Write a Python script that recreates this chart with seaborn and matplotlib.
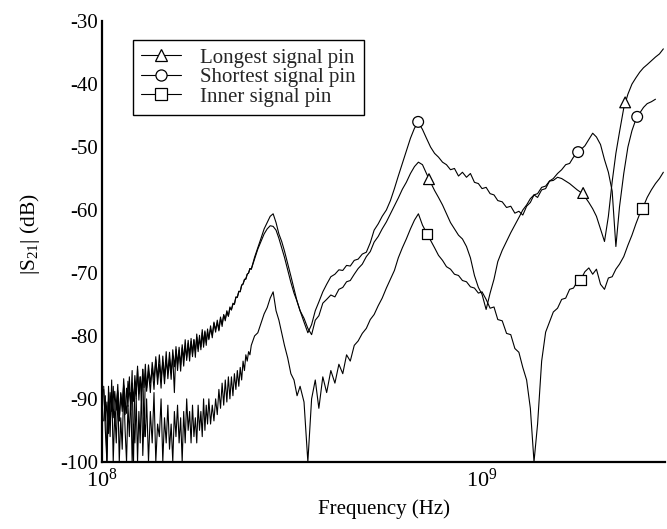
import numpy as np
import pandas as pd
import matplotlib
matplotlib.use("Agg")
import matplotlib.pyplot as plt
import seaborn as sns
from matplotlib.lines import Line2D
from matplotlib.ticker import FixedLocator, NullLocator, LogFormatterMathtext

# ---------------- data ----------------
freq_mhz = [101, 102, 103, 104, 105, 106, 107, 108, 109, 110, 111, 112, 113, 114, 115, 116,
            117, 118, 119, 120, 121, 122, 123, 124, 125, 126, 127, 128, 129, 130, 131,
            132.5, 134, 135.5, 137, 138.5, 140, 141.5, 143, 144.5, 146, 147.5, 149, 150.5,
            152, 153.5, 155, 156.5, 158, 159.5, 161, 162.5, 164, 165.5, 167, 168.5, 170,
            171.5, 173, 174.5, 176, 177.5, 179, 180.5, 182, 183.5, 185, 186.5, 188, 189.5, 191,
            193, 195, 197, 199, 201, 203, 205, 207, 209, 211, 213, 215, 217, 219, 221, 223,
            225, 227, 229, 231, 233, 235, 237, 239, 241, 243, 245, 247,
            252, 257, 262, 267, 272, 277, 282, 287, 292, 297, 302, 308, 314, 320, 326, 332,
            340, 348, 356, 364, 372, 381, 390, 400, 410, 420, 430, 440, 450, 461, 472, 484,
            496, 508, 520, 533, 546, 560, 574, 588, 602, 617, 632, 648, 664, 680, 697, 714,
            732, 750, 768, 787, 806, 826, 846, 867, 888, 910, 932, 955, 978, 1000, 1025, 1050,
            1075, 1100, 1130, 1160, 1190, 1220, 1250, 1280, 1310, 1340, 1370, 1400, 1435, 1470,
            1505, 1540, 1580, 1620, 1660, 1700, 1740, 1780, 1820, 1865, 1910, 1955, 2000, 2050,
            2100, 2150, 2200, 2250, 2300, 2360, 2420, 2480, 2540, 2600, 2660, 2720, 2790, 2860,
            2930, 3000]

longest_db = [-88.5, -93.5, -90.5, -95.5, -89, -92, -88, -94, -90.8, -88.7,
              -93.5, -89.2, -92, -86.8, -90.5, -92.3, -87.2, -89, -90.8, -85.5,
              -100, -87.3, -90, -85.3, -89.2, -86.5, -90.4, -85.3, -88.2, -84.5,
              -88.8,
              -85.6, -89, -84.2, -87, -83.3, -87.7, -84.5, -88.3, -83.2, -86.6,
              -82.5, -86.8, -83.6, -86.9, -82.2, -84.9, -82.2, -85.5, -82.3, -85.6,
              -81.4, -83.8, -80.6, -83.9, -81.2, -84, -80.4, -82.8, -80.6, -83.4,
              -79.7, -82, -79.9, -82.2, -79, -81.3, -79.2, -81.5, -78.9, -80.6,
              -78.4, -80.3, -78, -79.4, -77.5, -79, -77, -78.5, -76.6, -77.6,
              -76, -76.9, -75.4, -75.9, -74.8, -75, -73.8, -73.9, -72.9, -73,
              -71.9, -71.8, -71, -71, -70.2, -70, -69.3, -69.4,
              -67.5, -66, -64.5, -63, -62, -61, -60.6, -62, -63.8, -65,
              -66.5, -68.5, -70.5, -72.5, -74.5, -76,
              -77.2, -78.8, -79.8, -77.5, -76.8, -74.8, -74.2, -73.5, -73.8, -72.6,
              -72.3, -71.4, -71.2, -70.2, -69.3, -68.6, -67.4, -66.6, -65.1, -64.2,
              -63.0, -61.9, -60.6, -59.3, -58.1, -56.7, -55.6, -54.2, -53.1, -52.4,
              -52.8, -54.2, -55.6, -56.9, -58.0, -59.2, -60.6, -62.0, -63.0, -64.0,
              -64.6, -65.8, -67.6, -70.4, -72.3, -73.4, -75.8, -73.2, -71.0, -68.2,
              -66.4, -65.0, -63.6, -62.4, -61.2, -60.0, -59.2, -58.2, -57.6, -57.4,
              -56.4, -56.2, -55.4, -55.3, -54.8, -55.0, -55.4, -55.8, -56.3, -56.8,
              -57.2, -57.9, -58.8, -59.8, -61.0, -63.0, -65.0, -61.0, -55.5, -51.0,
              -47.6, -43.8, -41.6, -40.0, -39.0, -38.1, -37.4, -36.9, -36.3, -35.7,
              -35.2, -34.4]

shortest_db = [-93.5, -89.5, -100, -88, -94, -90, -93, -88.8, -91.8, -87.7,
               -93.5, -89, -91, -87.8, -92.5, -88.3, -91.2, -86.5, -91.8, -87.5,
               -90.4, -86.3, -89, -84.8, -90.2, -86.5, -88.9, -85.3, -96, -86,
               -88.3,
               -84.6, -87.5, -85.2, -88.5, -83.8, -86.7, -83, -86.8, -84.2, -87.6,
               -84, -85.8, -82.6, -85.9, -83.2, -89, -81.7, -84.5, -81.8, -84.6,
               -81.9, -84.8, -81.6, -83.4, -80.7, -83, -80.9, -83.3, -80.6, -82.4,
               -80.2, -82.5, -80.4, -81.7, -79.5, -81.8, -79.4, -81, -79.4, -80.4,
               -78.9, -79.9, -77.8, -79, -77.9, -79.2, -77.3, -78.1, -76.7, -77.3,
               -76.2, -76.8, -75.6, -75.8, -75, -74.9, -73.9, -73.8, -73, -72.9,
               -72, -71.7, -71.1, -70.9, -70.2, -70, -69.3, -69.4,
               -67.8, -66.2, -65, -63.8, -63, -62.5, -62.6, -63.2, -64.5, -66,
               -67.5, -69.5, -71.5, -73.2, -74.5, -76,
               -77.8, -79.5, -78.2, -76.0, -74.6, -73.0, -71.8, -70.6, -70.2, -69.5,
               -69.6, -68.8, -68.9, -68.0, -67.8, -67.0, -66.7, -65.2, -63.2, -62.2,
               -61.0, -60.0, -58.5, -56.6, -54.6, -52.6, -50.6, -48.6, -47.0, -46.1,
               -47.2, -48.6, -50.0, -51.0, -51.6, -52.4, -52.8, -53.6, -53.4, -54.6,
               -54.0, -54.8, -54.2, -55.6, -55.8, -56.6, -56.4, -57.4, -57.6, -58.5,
               -58.7, -59.6, -59.4, -60.5, -60.2, -60.8, -59.4, -58.8, -57.6, -58.0,
               -56.8, -56.6, -55.4, -55.0, -54.2, -53.6, -52.8, -52.6, -51.6, -51.0,
               -50.4, -49.8, -48.8, -47.8, -48.4, -49.6, -52.0, -54.0, -57.0, -65.8,
               -59.5, -54.2, -50.0, -47.4, -45.6, -44.6, -43.7, -43.1, -42.8, -42.4,
               np.nan, np.nan]

inner_db = [-88, -95, -100, -90, -96, -87, -100, -92, -97, -89,
            -100, -93, -98, -88, -95, -100, -91, -96, -89, -100,
            -94, -97, -90, -100, -92, -97, -88, -99, -93, -96,
            -90,
            -100, -92, -97, -89, -100, -94, -96, -90, -100, -93,
            -97, -91, -98, -94, -100, -92, -96, -91, -97, -93,
            -100, -92, -97, -90, -95, -92, -97, -91, -96, -93,
            -97, -91, -95, -92, -96, -90, -95, -91, -94, -90,
            -94, -91, -93.5, -90, -92.5, -88.5, -91.5, -87.5, -91, -87,
            -90.5, -86.5, -90, -86.5, -89.5, -86, -88.5, -85.5, -88, -85,
            -87, -84, -85.5, -83, -84, -82.5, -83, -81.5,
            -80, -79.5, -78, -76.5, -75.5, -74, -73, -76, -77.5, -79.5,
            -81.5, -83.5, -86, -87, -89.5, -88,
            -90.5, -100.0, -90.0, -87.0, -91.5, -86.5, -89.0, -85.5, -87.5, -84.5,
            -86.0, -83.0, -84.0, -81.5, -80.8, -79.6, -78.8, -77.4, -76.6, -75.2,
            -74.0, -72.4, -71.0, -69.6, -67.6, -66.0, -64.6, -63.0, -61.6, -60.6,
            -62.4, -63.6, -64.8, -66.0, -67.2, -68.0, -69.0, -69.4, -70.2, -70.4,
            -71.2, -71.4, -72.2, -72.4, -73.2, -73.0, -74.2, -75.6, -75.4, -77.4,
            -77.6, -79.6, -79.8, -82.0, -82.6, -85.0, -87.0, -91.5, -100.0, -94.0,
            -84.0, -79.4, -77.8, -76.2, -75.6, -74.2, -74.0, -72.6, -72.4, -71.4,
            -71.0, -69.8, -69.2, -70.2, -69.4, -71.8, -72.6, -70.8, -70.6, -69.4,
            -68.6, -67.4, -65.6, -64.0, -62.2, -60.6, -59.4, -58.0, -56.8, -55.8,
            -55.0, -54.0]

series_names = ["Longest signal pin", "Shortest signal pin", "Inner signal pin"]
series_markers = ["^", "o", "s"]

longest_mark_mhz = [725, 1845, 2380]
longest_mark_db = [-55.1, -57.3, -42.9]
shortest_mark_mhz = [679, 1790, 2560]
shortest_mark_db = [-46.0, -50.8, -45.2]
inner_mark_mhz = [716, 1820, 2640]
inner_mark_db = [-63.8, -71.1, -59.7]

y_ticks = [-100, -90, -80, -70, -60, -50, -40, -30]
x_ticks = [1e8, 1e9]

# ---------------- style ----------------
sns.set_theme(style="white")
plt.rcParams['font.family'] = ['Liberation Serif', 'DejaVu Serif']
plt.rcParams['mathtext.fontset'] = 'custom'
plt.rcParams['mathtext.rm'] = 'Liberation Serif'
plt.rcParams['mathtext.it'] = 'Liberation Serif:italic'
plt.rcParams['mathtext.bf'] = 'Liberation Serif:bold'
plt.rcParams['axes.unicode_minus'] = False

fig = plt.figure(figsize=(6.67, 5.29), dpi=100)
ax = fig.add_axes([0.153, 0.127, 0.844, 0.833])

# ---------------- lines ----------------
wide = pd.DataFrame({"freq": np.array(freq_mhz, dtype=float) * 1e6,
                     series_names[0]: longest_db,
                     series_names[1]: shortest_db,
                     series_names[2]: inner_db})
long_df = wide.melt(id_vars="freq", var_name="series", value_name="db").dropna()

sns.lineplot(data=long_df, x="freq", y="db", hue="series", hue_order=series_names,
             palette=["black"] * 3, estimator=None, sort=False, legend=False,
             linewidth=0.8, ax=ax)

# ---------------- markers ----------------
mk = pd.DataFrame({
    "freq": np.array(longest_mark_mhz + shortest_mark_mhz + inner_mark_mhz, dtype=float) * 1e6,
    "db": longest_mark_db + shortest_mark_db + inner_mark_db,
    "series": [series_names[0]] * 3 + [series_names[1]] * 3 + [series_names[2]] * 3,
})
sns.scatterplot(data=mk, x="freq", y="db", style="series", style_order=series_names,
                markers=dict(zip(series_names, series_markers)),
                color="white", edgecolor="black", linewidth=0.9, s=60,
                legend=False, zorder=5, ax=ax)

# ---------------- axes ----------------
ax.set_xscale("log")
ax.set_xlim(1e8, 3.03e9)
ax.set_ylim(-100, -30)
ax.xaxis.set_major_locator(FixedLocator(x_ticks))
ax.xaxis.set_major_formatter(LogFormatterMathtext())
ax.xaxis.set_minor_locator(NullLocator())
ax.set_yticks(y_ticks)
ax.tick_params(axis="both", length=0, colors="black")
ax.tick_params(axis="y", pad=3, labelsize=15)
ax.tick_params(axis="x", pad=5, labelsize=16)

for side in ["top", "right"]:
    ax.spines[side].set_visible(False)
for side in ["left", "bottom"]:
    ax.spines[side].set_visible(True)
    ax.spines[side].set_color("black")
    ax.spines[side].set_linewidth(1.6)

ax.set_xlabel("Frequency (Hz)", fontsize=15, color="black", labelpad=5)
ax.set_ylabel(r"$|\mathrm{S}_{21}|$ (dB)", fontsize=15.5, color="black")
ax.yaxis.set_label_coords(-0.107, 0.517)

handles = [Line2D([], [], color="black", lw=0.8, marker=m, markersize=8,
                  markerfacecolor="white", markeredgecolor="black", markeredgewidth=0.9)
           for m in series_markers]
leg = ax.legend(handles, series_names, loc="upper left", bbox_to_anchor=(0.055, 0.958),
                fontsize=15, frameon=True, fancybox=False, edgecolor="black",
                framealpha=1, labelspacing=0.0, handlelength=1.9, handletextpad=0.9,
                borderpad=0.4, borderaxespad=0)
leg.get_frame().set_linewidth(1.0)

fig.savefig("out.png", dpi=100)
